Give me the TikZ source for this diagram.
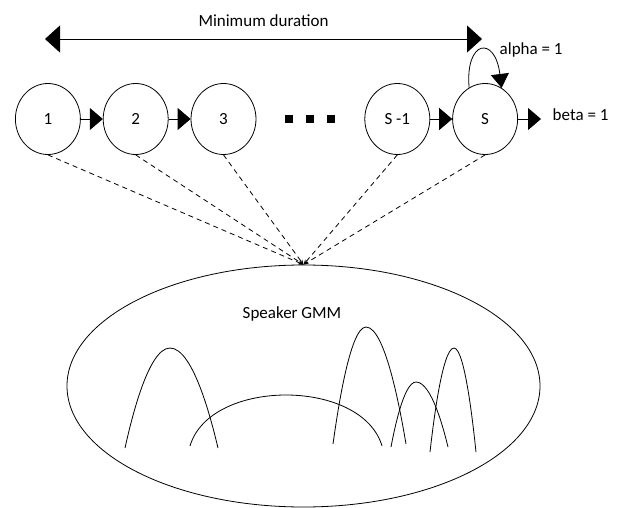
\documentclass[tikz,border=0pt]{standalone}
\usepackage{fontspec}
\setmainfont{Carlito}
\usetikzlibrary{shapes,arrows.meta}

\begin{document}
\begin{tikzpicture}[x=1pt,y=-1pt,line width=0.8pt,font=\fontsize{17}{20}\selectfont,
	state/.style={ellipse,draw,minimum width=65pt,minimum height=71pt,inner sep=0pt},
	tri/.style={-{Triangle[length=13pt,width=22pt]}},
	link/.style={dash pattern=on 5pt off 4pt,-{Stealth[length=5pt,width=4pt]}}]
\useasboundingbox (0,0) rectangle (621,508);
\matrix (m) at (266.5,119) [column sep=22pt]
{
	\node[state] (q1) {1}; & \node[state] (q2) {2}; & \node[state] (q3) {3}; &
	\node[minimum width=64pt] (dots) {\rule{8pt}{8pt}\hspace{13pt}\rule{8pt}{8pt}\hspace{13pt}\rule{8pt}{8pt}}; &
	\node[state] (qm) {S -1}; & \node[state] (qS) {S};\\
};
\coordinate (durL) at (45,39);
\coordinate (durR) at (482,39);
\draw[{Triangle[length=15pt,width=27pt]}-{Triangle[length=15pt,width=27pt]}] (durL) -- node[above=9pt] (dur) {Minimum duration} (durR);
\draw[tri] (q1.east) -- (q2.west);
\draw[tri] (q2.east) -- (q3.west);
\draw[tri] (qm.east) -- (qS.west);
\draw[-{Triangle[length=14pt,width=18pt]}] (qS.117) .. controls (465,40) and (495,35) .. (qS.62);
\node[anchor=west] (alpha) at (496,50) {alpha = 1};
\coordinate (exit) at ([xshift=23pt]qS.east);
\draw[tri] (qS.east) -- (exit);
\node[anchor=west] (beta) at ([xshift=8pt,yshift=4pt]exit) {beta = 1};
\node[ellipse,draw,minimum width=473pt,minimum height=242pt] (gmm) at (303.5,386) {};
\node (gmmlabel) at (292,314) {Speaker GMM};
\foreach \q in {q1,q2,q3,qm,qS}
	\draw[link] (\q.south) -- (gmm.north);
\draw (125,448) parabola bend (170,348) (218,448);
\draw (190,446) .. controls (210,378) and (362,378) .. (382,446);
\draw (333,444) parabola bend (366,327) (406,444);
\draw (391,447) parabola bend (416,382) (448,447);
\draw (430,452) parabola bend (454,348) (476,452);
\end{tikzpicture}
\end{document}
